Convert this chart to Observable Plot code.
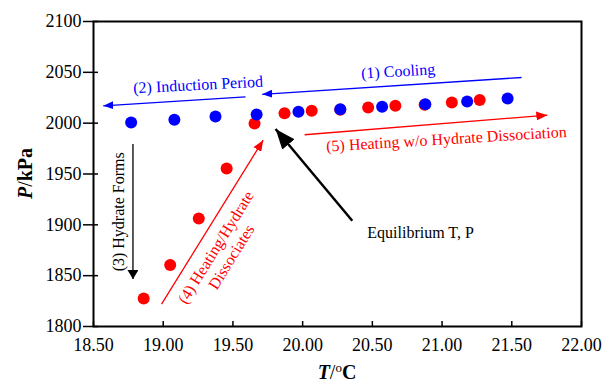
<!DOCTYPE html>
<html><head><meta charset="utf-8">
<script src="https://cdn.jsdelivr.net/npm/d3@7"></script>
<script src="https://cdn.jsdelivr.net/npm/@observablehq/plot@0.6"></script>
<style>body{margin:0;background:#fff;}</style>
</head><body><div id="chart"></div>
<script>
// Tick values
const xTicks = [18.5, 19, 19.5, 20, 20.5, 21, 21.5, 22];
const yTicks = [1800, 1850, 1900, 1950, 2000, 2050, 2100];

// Heating series (red)
const heatingT = [18.86, 19.05, 19.255, 19.455, 19.655, 19.87, 20.065, 20.27, 20.47, 20.665, 20.875, 21.07, 21.27];
const heatingP = [1827.5, 1860.4, 1906.2, 1955.4, 1999.7, 2009.7, 2012.2, 2013.2, 2015.4, 2017.1, 2018.2, 2020.3, 2022.7];

// Cooling series (blue)
const coolingT = [18.77, 19.08, 19.375, 19.67, 19.97, 20.27, 20.57, 20.88, 21.18, 21.47];
const coolingP = [2000.6, 2003.3, 2006.5, 2008.5, 2011.2, 2013.8, 2016.1, 2018.7, 2021.3, 2024.3];

// Annotation arrows (data units): start (T1,P1) -> head (T2,P2)
const arrowNames = ["cooling", "induction", "hydrate", "dissociates", "heating", "equilibrium"];
const arrowT1 = [21.57, 19.59, 18.783, 18.988, 20.014, 20.356];
const arrowP1 = [2044.9, 2025.9, 1979.4, 1822.0, 1988.6, 1904.0];
const arrowT2 = [19.71, 18.57, 18.783, 19.717, 21.755, 19.806];
const arrowP2 = [2028.4, 2017.1, 1846.6, 1983.3, 2007.9, 1994.2];

// Annotation labels (data units)
const labelTexts = ["(1) Cooling", "(2) Induction Period", "(3) Hydrate Forms",
  "(4) Heating/Hydrate\nDissociates", "(5) Heating w/o Hydrate Dissociation", "Equilibrium T, P"];
const labelT = [20.685, 19.25, 18.679, 19.429, 21.031, 20.846];
const labelP = [2051.0, 2037.7, 1912.8, 1873.4, 1984.3, 1892.5];

const heating = heatingT.map((t, i) => ({T: t, P: heatingP[i]}));
const cooling = coolingT.map((t, i) => ({T: t, P: coolingP[i]}));
const arrows = arrowNames.map((n, i) => ({name: n, T1: arrowT1[i], P1: arrowP1[i], T2: arrowT2[i], P2: arrowP2[i]}));
const labels = labelTexts.map((s, i) => ({text: s, T: labelT[i], P: labelP[i]}));

function headMarker(len, wid) {
  return (color, context) => {
    const doc = (context && context.document) || document;
    const ns = "http://www.w3.org/2000/svg";
    const m = doc.createElementNS(ns, "marker");
    m.setAttribute("viewBox", `${-len} ${-wid / 2} ${len} ${wid}`);
    m.setAttribute("markerWidth", len);
    m.setAttribute("markerHeight", wid);
    m.setAttribute("markerUnits", "userSpaceOnUse");
    m.setAttribute("orient", "auto");
    m.setAttribute("refX", 0);
    m.setAttribute("refY", 0);
    const p = doc.createElementNS(ns, "path");
    p.setAttribute("d", `M${-len},${-wid / 2}L0,0L${-len},${wid / 2}Z`);
    p.setAttribute("fill", color);
    p.setAttribute("stroke", "none");
    m.appendChild(p);
    return m;
  };
}

const font = "Liberation Serif";
const arrowMark = (name, stroke, sw, head) =>
  Plot.link(arrows.filter(d => d.name === name), {x1: "T1", y1: "P1", x2: "T2", y2: "P2",
    stroke, strokeWidth: sw, markerEnd: head});
const labelMark = (i, fill, rotate, extra = {}) =>
  Plot.text([labels[i]], {x: "T", y: "P", text: "text", fill, rotate, fontSize: 16, fontFamily: font, ...extra});

const plot = Plot.plot({
  width: 605, height: 384,
  marginLeft: 93, marginRight: 24, marginTop: 21, marginBottom: 58,
  style: {fontFamily: font, fontSize: "18px", color: "black", background: "white", overflow: "visible"},
  x: {domain: [18.5, 22], label: null},
  y: {domain: [1800, 2100], label: null},
  marks: [
    Plot.axisX(xTicks, {tickSize: -5, tickPadding: 17, tickFormat: d3.format(".2f"), label: null,
      strokeWidth: 1.5, fontSize: 18, fontFamily: font, fill: "black"}),
    Plot.axisY(yTicks, {tickSize: 10, tickPadding: 2, tickFormat: d3.format("d"), label: null,
      strokeWidth: 1.5, fontSize: 18, fontFamily: font, fill: "black"}),
    Plot.axisY(yTicks, {tickSize: -5, tickFormat: () => "", label: null, strokeWidth: 1.5}),
    Plot.frame({stroke: "black", strokeWidth: 2}),
    arrowMark("cooling", "#0000ff", 1.3, headMarker(10, 8)),
    arrowMark("induction", "#0000ff", 1.3, headMarker(10, 8)),
    arrowMark("hydrate", "black", 1.3, headMarker(9, 11)),
    arrowMark("dissociates", "#ff0000", 1.3, headMarker(11, 9)),
    arrowMark("heating", "#ff0000", 1.3, headMarker(11, 9)),
    arrowMark("equilibrium", "black", 2.5, headMarker(20, 16)),
    labelMark(0, "#0000ff", -3.5),
    labelMark(1, "#0000ff", -3),
    labelMark(2, "black", -90),
    labelMark(3, "#ff0000", -58.2, {lineHeight: 1.15}),
    labelMark(4, "#ff0000", -3.5),
    labelMark(5, "black", 0),
    Plot.dot(heating, {x: "T", y: "P", r: 6, fill: "#ff0000"}),
    Plot.dot(cooling, {x: "T", y: "P", r: 6, fill: "#0000ff"})
  ]
});

document.getElementById("chart").appendChild(plot);

const svg = d3.select(plot);
// force serif font on tick labels
svg.selectAll("g[aria-label$='tick label'], g[aria-label$='tick label'] text")
  .attr("font-family", font).style("font-family", font).style("font-variant", "normal");

// Axis titles with mixed styling
const xr = plot.scale("x").range, yr = plot.scale("y").range;
const yl = svg.append("text")
  .attr("transform", `translate(25,${(yr[0] + yr[1]) / 2}) rotate(-90)`)
  .attr("text-anchor", "middle").attr("dy", "0.35em")
  .attr("font-family", font).attr("font-size", 20).attr("font-weight", "bold").attr("fill", "black");
yl.append("tspan").attr("font-style", "italic").text("P");
yl.append("tspan").attr("font-weight", "normal").text("/");
yl.append("tspan").text("kPa");

const xl = svg.append("text")
  .attr("x", (xr[0] + xr[1]) / 2).attr("y", 379)
  .attr("text-anchor", "middle")
  .attr("font-family", font).attr("font-size", 20).attr("font-weight", "bold").attr("fill", "black");
xl.append("tspan").attr("font-style", "italic").text("T");
xl.append("tspan").attr("font-weight", "normal").text("/");
xl.append("tspan").attr("font-weight", "normal").attr("font-size", 13).attr("dy", -7).text("o");
xl.append("tspan").attr("dy", 7).text("C");
</script>
</body></html>
